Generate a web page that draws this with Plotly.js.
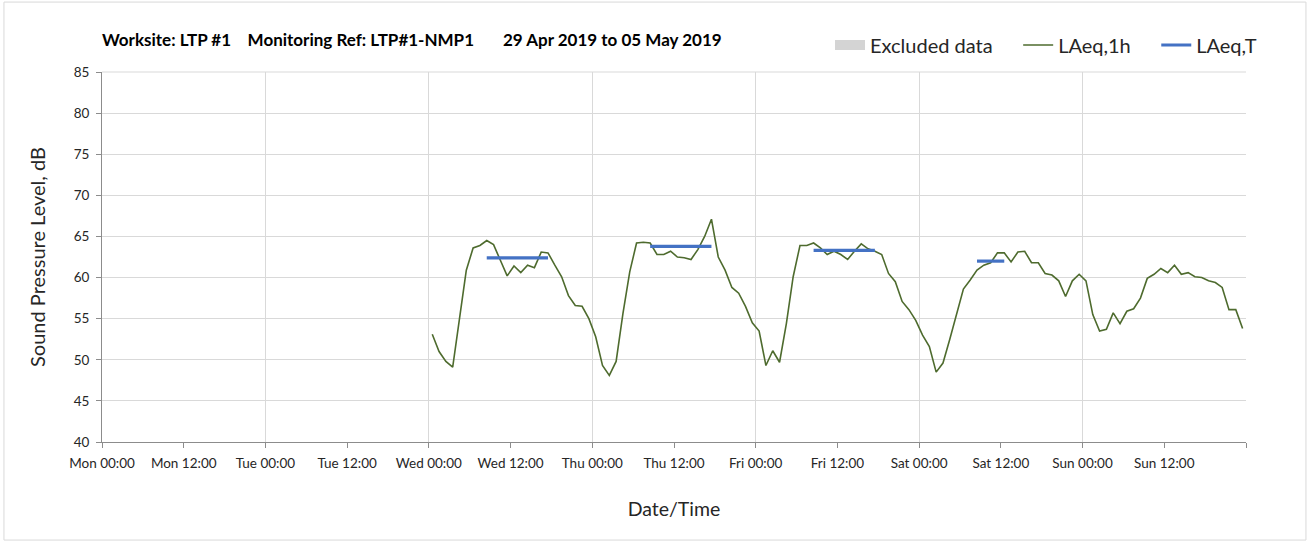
<!DOCTYPE html>
<html>
<head>
<meta charset="utf-8">
<script src="https://cdn.plot.ly/plotly-3.0.1.min.js"></script>
<style>html,body{margin:0;padding:0;background:#fff;}#chart{width:1312px;height:545px;}</style>
</head>
<body>
<div id="chart"></div>
<script>
// ---- Data ----
const chartTitle = "Worksite: LTP #1\u00A0\u00A0\u00A0\u00A0Monitoring Ref: LTP#1-NMP1\u00A0\u00A0\u00A0\u00A0\u00A0\u00A0\u00A029 Apr 2019 to 05 May 2019";
const weekStart = "2019-04-29 00:00";
const weekEnd = "2019-05-06 00:00";
const firstHourly = "2019-05-01 00:30";   // first LAeq,1h sample (hour midpoint)
const laeq1hWed = [53.1, 51.0, 49.8, 49.1, 55.0, 60.9, 63.6, 63.9, 64.5, 64.0, 62.1, 60.2, 61.4, 60.6, 61.5, 61.2, 63.1, 63.0, 61.5, 60.1, 57.8, 56.6, 56.5, 55.0];
const laeq1hThu = [52.8, 49.3, 48.1, 49.8, 55.6, 60.7, 64.2, 64.3, 64.2, 62.8, 62.8, 63.2, 62.5, 62.4, 62.2, 63.4, 65.0, 67.1, 62.5, 60.9, 58.8, 58.1, 56.5, 54.5];
const laeq1hFri = [53.5, 49.3, 51.1, 49.7, 54.4, 60.1, 63.9, 63.9, 64.2, 63.6, 62.8, 63.2, 62.8, 62.2, 63.2, 64.1, 63.5, 63.2, 62.8, 60.5, 59.5, 57.1, 56.1, 54.8];
const laeq1hSat = [53.0, 51.6, 48.5, 49.6, 52.5, 55.5, 58.6, 59.7, 60.9, 61.5, 61.8, 63.0, 63.0, 61.9, 63.1, 63.2, 61.8, 61.8, 60.5, 60.3, 59.6, 57.7, 59.6, 60.4];
const laeq1hSun = [59.6, 55.5, 53.5, 53.7, 55.7, 54.4, 55.9, 56.2, 57.5, 59.9, 60.4, 61.1, 60.6, 61.5, 60.4, 60.6, 60.1, 60.0, 59.6, 59.4, 58.8, 56.1, 56.1, 53.8];
// LAeq,T periods
const laeqTStart = ["2019-05-01 08:30", "2019-05-02 08:30", "2019-05-03 08:30", "2019-05-04 08:30"];
const laeqTEnd   = ["2019-05-01 17:30", "2019-05-02 17:30", "2019-05-03 17:30", "2019-05-04 12:30"];
const laeqTValue = [62.4, 63.8, 63.3, 62.0];
const xTickLabels = ["Mon 00:00","Mon 12:00","Tue 00:00","Tue 12:00","Wed 00:00","Wed 12:00","Thu 00:00","Thu 12:00","Fri 00:00","Fri 12:00","Sat 00:00","Sat 12:00","Sun 00:00","Sun 12:00",""];
const legendNames = ["Excluded data", "LAeq,1h", "LAeq,T"];

// ---- Build ----
function parseD(s){const [d,t]=s.split(' ');const [Y,M,D]=d.split('-').map(Number);const [h,m]=t.split(':').map(Number);return Date.UTC(Y,M-1,D,h,m);}
function fmt(ms){return new Date(ms).toISOString().slice(0,16).replace('T',' ');}
const HOUR = 3600000;
const hourly = [].concat(laeq1hWed, laeq1hThu, laeq1hFri, laeq1hSat, laeq1hSun);
const t0 = parseD(firstHourly);
const hx = hourly.map((v,i)=>fmt(t0 + i*HOUR));

const tx=[], ty=[];
laeqTValue.forEach((v,i)=>{tx.push(laeqTStart[i], laeqTEnd[i], null); ty.push(v, v, null);});

const ws = parseD(weekStart);
const tickVals = xTickLabels.map((l,i)=>fmt(ws + i*12*HOUR));
const pad = '\u00A0\u00A0\u00A0\u00A0';

const font = "Lato, 'Open Sans', sans-serif";
const traces = [
  {type:'scatter', mode:'lines', x:[null], y:[null], name:legendNames[0]+pad, line:{color:'#d4d4d4', width:13}, showlegend:true, hoverinfo:'skip'},
  {type:'scatter', mode:'lines', x:hx, y:hourly, name:legendNames[1]+pad, line:{color:'#4e6b2e', width:1.6}},
  {type:'scatter', mode:'lines', x:tx, y:ty, name:legendNames[2], line:{color:'#4472c4', width:3.2}, connectgaps:false},
  {type:'scatter', mode:'lines', x:[weekStart], y:[null], xaxis:'x2', showlegend:false, hoverinfo:'skip'}
];

const layout = {
  width:1312, height:545,
  margin:{l:102, r:66, t:72, b:103},
  paper_bgcolor:'#fff', plot_bgcolor:'rgba(0,0,0,0)',
  font:{family:font, color:'#262626'},
  title:{text:'<b>'+chartTitle+'</b>', x:102/1312, xanchor:'left', y:1-40/545, yanchor:'middle', font:{size:17, color:'#000', family:font}},
  xaxis:{type:'date', range:[weekStart, weekEnd], tickmode:'array', tickvals:tickVals, ticktext:xTickLabels,
         showgrid:false, zeroline:false, showline:true, linecolor:'#8c8c8c', linewidth:1,
         ticks:'outside', ticklen:5, tickcolor:'#8c8c8c', ticklabelstandoff:4, tickfont:{size:13.5, color:'#262626', family:font},
         title:{text:'Date/Time', font:{size:19.5, color:'#262626', family:font}, standoff:32}},
  xaxis2:{type:'date', overlaying:'x', range:[weekStart, weekEnd], tick0:weekStart, dtick:24*HOUR,
          showgrid:true, gridcolor:'#d9d9d9', gridwidth:1, showticklabels:false, ticks:'', zeroline:false, showline:false},
  yaxis:{range:[40,85], dtick:5, tick0:40, showgrid:true, gridcolor:'#d9d9d9', gridwidth:1,
         zeroline:false, showline:true, linecolor:'#8c8c8c', ticks:'outside', ticklen:5, tickcolor:'#8c8c8c',
         ticklabelstandoff:4, tickfont:{size:13.5, color:'#262626', family:font},
         title:{text:'Sound Pressure Level, dB', font:{size:20, color:'#262626', family:font}, standoff:22}},
  legend:{orientation:'h', x:(1262-102)/1144, xanchor:'right', y:(442-45)/370, yanchor:'middle',
          font:{size:20, color:'#262626', family:font}, bgcolor:'rgba(0,0,0,0)', traceorder:'normal'},
  showlegend:true,
  shapes:[
    {type:'rect', xref:'paper', yref:'paper', x0:-0.0857, x1:1.0524, y0:-0.265, y1:1.189, line:{color:'#d9d9d9', width:1}, layer:'below'},
    {type:'line', xref:'paper', yref:'paper', x0:0, x1:1, y0:1, y1:1, line:{color:'#d9d9d9', width:1}, layer:'below'}
  ]
};

Plotly.newPlot('chart', traces, layout, {displayModeBar:false, staticPlot:true});
</script>
</body>
</html>
